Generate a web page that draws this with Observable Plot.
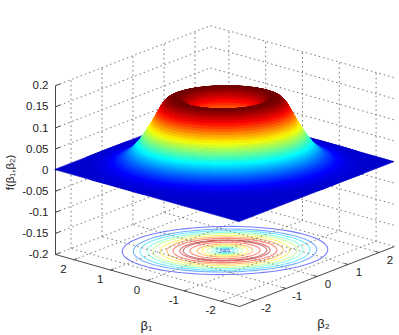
<!DOCTYPE html>
<html><head><meta charset="utf-8">
<style>html,body{margin:0;padding:0;background:#fff}svg{display:block}</style>
<script src="https://cdn.jsdelivr.net/npm/d3@7"></script>
<script src="https://cdn.jsdelivr.net/npm/@observablehq/plot@0.6"></script>
</head><body><div id="chart"></div>
<script>
// ---- values ----
const betaTicks = [-2, -1, 0, 1, 2];
const zTicks = [-0.2, -0.15, -0.1, -0.05, 0, 0.05, 0.1, 0.15, 0.2];
const zTickLabels = ["-0.2", "-0.15", "-0.1", "-0.05", "0", "0.05", "0.1", "0.15", "0.2"];
// radial profile of the surface (elliptical radius -> height)
const profileRho = [0, .1, .2, .3, .4, .5, .6, .7, .8, .9, 1.0, 1.1, 1.2, 1.3, 1.4, 1.5, 1.6, 1.7, 1.8, 1.9, 2.0, 2.1, 2.2, 2.3, 2.4, 2.5, 2.7, 3.0, 3.5, 5.2];
const profileZ = [.012, .02, .035, .055, .078, .1, .12, .138, .15, .158, .161, .16, .156, .145, .125, .105, .087, .069, .054, .041, .031, .023, .017, .012, .008, .005, .002, 0, 0, 0];
// contour rings on the floor
const ringRho = [2.14, 1.91, 1.77, 1.62, 1.5, 1.35, 1.21, 1.08, .94, .87, .73, .58, .48, .37, .27, .19, .1];
const ringZ = [.012, .028, .045, .062, .08, .097, .113, .13, .148, .148, .13, .113, .097, .08, .062, .045, .028];
// jet colour map
const jetZ = [-0.012, 0.01, 0.052, 0.094, 0.135, 0.158];
const jetColors = ["#00008f", "#0000ff", "#00ffff", "#ffff00", "#ff0000", "#800000"];

// ---- view of the box ----
const W = 399, H = 335, B = 2.5, Z0 = -0.2, Z1 = 0.2;
const cx = 224.5, cy = 250;
const ux1 = -36.8, uy1 = -10.4, ux2 = 31, uy2 = -12, uz = -422;
const px = (b1, b2) => cx + ux1 * b1 + ux2 * b2;
const py = (b1, b2, z) => cy + uy1 * b1 + uy2 * b2 + uz * (z - Z0);
const seg = (a, b) => ({x1: px(a[0], a[1]), y1: py(...a), x2: px(b[0], b[1]), y2: py(...b)});

// ---- surface: cells follow the ellipses of the profile, cut by the square ----
const height = d3.scaleLinear(profileRho, profileZ).clamp(true);
const radial = [...d3.range(0, 2.8, 0.03), 2.8, 3];
const nTheta = 180;
function node(r, it) {
  const th = it / nTheta * 2 * Math.PI, q = r * Math.cos(th), p = r * Math.sin(th) / Math.SQRT2;
  const b1 = (p + q) / Math.SQRT2, b2 = (p - q) / Math.SQRT2;
  const s = Math.min(1, B / Math.max(Math.abs(b1), Math.abs(b2), 1e-9));
  return [b1 * s, b2 * s, height(r * s)];
}
const cells = [];
for (let k = 0; k + 1 < radial.length; k++) {
  for (let it = 0; it < nTheta; it++) {
    const a = node(radial[k], it), b = node(radial[k + 1], it), c = node(radial[k], it + 1), d = node(radial[k + 1], it + 1);
    const depth = py((a[0] + b[0] + c[0] + d[0]) / 4, (a[1] + b[1] + c[1] + d[1]) / 4, 0);
    cells.push({a, b, c, d, depth, f: (a[2] + b[2] + c[2] + d[2]) / 4, q: k * nTheta + it});
  }
}
cells.sort((m, n) => m.depth - n.depth);
// the flat sheet at height 0 lies under all cells and carries the far corners
const sheet = [
  {...seg([B, -B, 0], [B, B, 0]), q: -1, f: 0},
  {...seg([-B, -B, 0], [-B, B, 0]), q: -1, f: 0}
];
const quads = [...sheet, ...cells.flatMap(({a, b, c, d, q, f}) => [{...seg(a, b), q, f}, {...seg(c, d), q, f}])];

// ---- contour rings ----
const rings = [];
ringRho.forEach((r, k) => {
  for (let t = 0; t <= 96; t++) {
    const th = t / 96 * 2 * Math.PI, q = r * Math.cos(th), p = r * Math.sin(th) / Math.SQRT2;
    const b1 = (p + q) / Math.SQRT2, b2 = (p - q) / Math.SQRT2;
    rings.push({x: px(b1, b2), y: py(b1, b2, Z0), k, level: ringZ[k]});
  }
});

// ---- grid and axes ----
const grid = [];
for (const t of betaTicks) {
  grid.push(seg([t, -B, Z0], [t, B, Z0]), seg([-B, t, Z0], [B, t, Z0]));
  grid.push(seg([B, t, Z0], [B, t, Z1]), seg([t, B, Z0], [t, B, Z1]));
}
for (const z of zTicks) grid.push(seg([B, -B, z], [B, B, z]), seg([B, B, z], [-B, B, z]));
const axes = [seg([B, -B, Z0], [B, -B, Z1]), seg([B, -B, Z0], [-B, -B, Z0]), seg([-B, -B, Z0], [-B, B, Z0])];
for (const z of zTicks) axes.push(seg([B, -B, z], [B, -B + .15, z]));
for (const t of betaTicks) axes.push(seg([t, -B, Z0], [t, -B + .1, Z0]), seg([-B, t, Z0], [-B + .1, t, Z0]));

const zLabels = zTicks.map((z, i) => ({x: px(B, -B) - 7, y: py(B, -B, z), text: zTickLabels[i]}));
const b1Labels = betaTicks.map(t => ({x: px(t, -B) - 10.5, y: py(t, -B, Z0) + 9.5, text: String(t)}));
const b2Labels = betaTicks.map(t => ({x: px(-B, t) + 11, y: py(-B, t, Z0) + 7.5, text: String(t)}));
const font = {fontFamily: "Liberation Sans, Arial, sans-serif", fontSize: 11.5, fill: "#222"};

const chart = Plot.plot({
  width: W, height: H, marginTop: 0, marginRight: 0, marginBottom: 0, marginLeft: 0,
  x: {domain: [0, W], range: [0, W], axis: null},
  y: {domain: [0, H], range: [0, H], axis: null},
  color: {type: "linear", domain: jetZ, range: jetColors, interpolate: "rgb"},
  marks: [
    Plot.line(rings, {x: "x", y: "y", z: "k", stroke: "level", strokeWidth: 1.1, strokeOpacity: 0.55}),
    Plot.link(grid, {x1: "x1", y1: "y1", x2: "x2", y2: "y2", stroke: "#777", strokeWidth: 1, strokeDasharray: "1.5,3"}),
    Plot.link(axes, {x1: "x1", y1: "y1", x2: "x2", y2: "y2", stroke: "#4a4a4a", strokeWidth: 1}),
    Plot.area(quads, {x1: "x1", y1: "y1", x2: "x2", y2: "y2", z: "q", fill: "f", stroke: "f", strokeWidth: 0.7}),
    Plot.text(zLabels, {x: "x", y: "y", text: "text", textAnchor: "end", ...font}),
    Plot.text(b1Labels, {x: "x", y: "y", text: "text", ...font}),
    Plot.text(b2Labels, {x: "x", y: "y", text: "text", ...font}),
    Plot.text(["β₁"], {x: [146], y: [325], text: d => d, ...font, fontSize: 13}),
    Plot.text(["β₂"], {x: [323], y: [323], text: d => d, ...font, fontSize: 13}),
    Plot.text(["f(β₁,β₂)"], {x: [10], y: [172], text: d => d, rotate: -90, ...font})
  ]
});
document.getElementById("chart").append(chart);
</script></body></html>
